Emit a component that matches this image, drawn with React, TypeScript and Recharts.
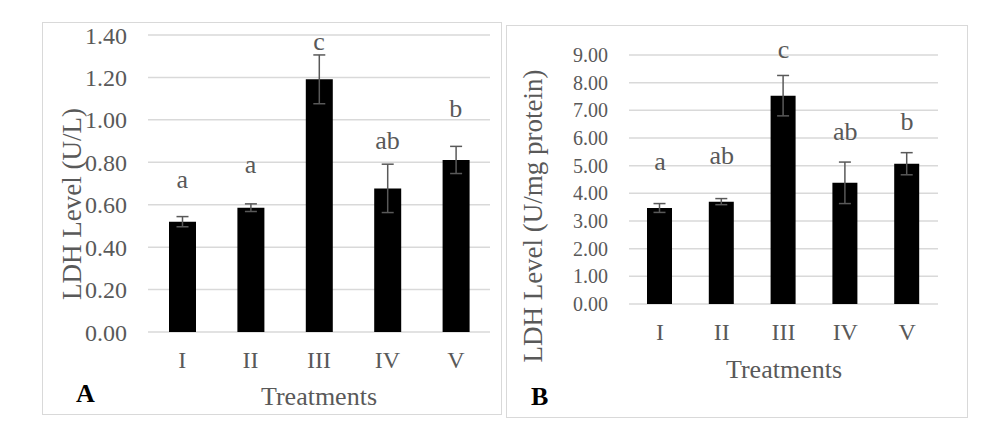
import React from 'react';
import { ComposedChart, Bar, ErrorBar, Scatter, XAxis, YAxis, CartesianGrid } from 'recharts';

const treatments = ['I', 'II', 'III', 'IV', 'V'];

// Panel A: LDH (U/L)
const serumValues = [0.52, 0.586, 1.191, 0.677, 0.811];
const serumErrors = [0.024, 0.018, 0.115, 0.114, 0.064];
const serumLetters = ['a', 'a', 'c', 'ab', 'b'];
const serumLetterY = [0.679, 0.75, 1.33, 0.863, 1.013];
const serumTicks = [0, 0.2, 0.4, 0.6, 0.8, 1.0, 1.2, 1.4];

// Panel B: LDH (U/mg protein)
const tissueValues = [3.47, 3.7, 7.53, 4.38, 5.07];
const tissueErrors = [0.16, 0.11, 0.73, 0.75, 0.4];
const tissueLetters = ['a', 'ab', 'c', 'ab', 'b'];
const tissueLetterY = [4.85, 5.06, 8.89, 5.93, 6.29];
const tissueTicks = [0, 1, 2, 3, 4, 5, 6, 7, 8, 9];

const FONT = '"Liberation Serif", "Times New Roman", serif';
const GRAY = '#595959';

const buildRows = (values: number[], errors: number[], letters: string[], letterY: number[]) =>
  treatments.map((name, i) => ({
    name,
    value: values[i],
    err: errors[i],
    letter: letters[i],
    letterY: letterY[i],
  }));

const LetterShape = (props: any) => {
  const { cx, cy, payload, fontSize } = props;
  return (
    <text x={cx} y={cy} textAnchor="middle" fill={GRAY} fontSize={fontSize} fontFamily={FONT}>
      {payload.letter}
    </text>
  );
};

interface PanelProps {
  rows: any[];
  ticks: number[];
  width: number;
  height: number;
  margin: { top: number; right: number; left: number; bottom: number };
  yAxisWidth: number;
  tickFont: number;
  barSize: number;
}

const Panel = ({ rows, ticks, width, height, margin, yAxisWidth, tickFont, barSize }: PanelProps) => (
  <ComposedChart width={width} height={height} data={rows} margin={margin}>
    <CartesianGrid vertical={false} stroke="#d9d9d9" strokeWidth={1.5} />
    <XAxis
      dataKey="name"
      axisLine={false}
      tickLine={false}
      tickSize={0}
      tickMargin={19}
      height={40}
      tick={{ fill: GRAY, fontSize: 24, fontFamily: FONT }}
    />
    <YAxis
      domain={[ticks[0], ticks[ticks.length - 1]]}
      ticks={ticks}
      interval={0}
      axisLine={false}
      tickLine={false}
      tickSize={0}
      tickMargin={21}
      width={yAxisWidth}
      tickFormatter={(v: number) => v.toFixed(2)}
      tick={{ fill: GRAY, fontSize: tickFont, fontFamily: FONT }}
    />
    <Bar dataKey="value" fill="#000000" barSize={barSize} isAnimationActive={false}>
      <ErrorBar dataKey="err" width={6} stroke={GRAY} strokeWidth={1.5} direction="y" />
    </Bar>
    <Scatter dataKey="letterY" isAnimationActive={false} shape={(p: any) => <LetterShape {...p} fontSize={26} />} />
  </ComposedChart>
);

const box = (left: number, top: number, width: number, height: number): React.CSSProperties => ({
  position: 'absolute',
  left,
  top,
  width,
  height,
});

export default function App() {
  const serumRows = buildRows(serumValues, serumErrors, serumLetters, serumLetterY);
  const tissueRows = buildRows(tissueValues, tissueErrors, tissueLetters, tissueLetterY);

  return (
    <div style={{ position: 'absolute', left: 0, top: 0, width: 1000, height: 439, background: '#fff', overflow: 'hidden' }}>
      <div style={box(42, 22, 460, 393)}>
        <Panel
          rows={serumRows}
          ticks={serumTicks}
          width={460}
          height={393}
          margin={{ top: 13, right: 12, left: 0, bottom: 43 }}
          yAxisWidth={106}
          tickFont={24}
          barSize={27}
        />
      </div>
      <div style={box(506, 25, 462, 393)}>
        <Panel
          rows={tissueRows}
          ticks={tissueTicks}
          width={462}
          height={393}
          margin={{ top: 30, right: 30, left: 0, bottom: 74 }}
          yAxisWidth={123}
          tickFont={20}
          barSize={25}
        />
      </div>
      <div style={{ ...box(42, 22, 460, 393), border: '1.5px solid #d9d9d9', boxSizing: 'border-box', pointerEvents: 'none' }} />
      <div style={{ ...box(506, 25, 462, 393), border: '1.5px solid #d9d9d9', boxSizing: 'border-box', pointerEvents: 'none' }} />
      <svg width={1000} height={439} style={{ position: 'absolute', left: 0, top: 0, pointerEvents: 'none' }}>
        <text x={81} y={204} transform="rotate(-90 81 204)" textAnchor="middle" fill={GRAY} fontSize={27} fontFamily={FONT}>
          LDH Level (U/L)
        </text>
        <text x={542} y={216} transform="rotate(-90 542 216)" textAnchor="middle" fill={GRAY} fontSize={27} fontFamily={FONT}>
          LDH Level (U/mg protein)
        </text>
        <text x={319} y={405} textAnchor="middle" fill={GRAY} fontSize={26} fontFamily={FONT}>
          Treatments
        </text>
        <text x={784} y={378} textAnchor="middle" fill={GRAY} fontSize={26} fontFamily={FONT}>
          Treatments
        </text>
        <text x={76} y={402} fill="#000" fontSize={26} fontWeight="bold" fontFamily={FONT}>
          A
        </text>
        <text x={531} y={405} fill="#000" fontSize={26} fontWeight="bold" fontFamily={FONT}>
          B
        </text>
      </svg>
    </div>
  );
}
